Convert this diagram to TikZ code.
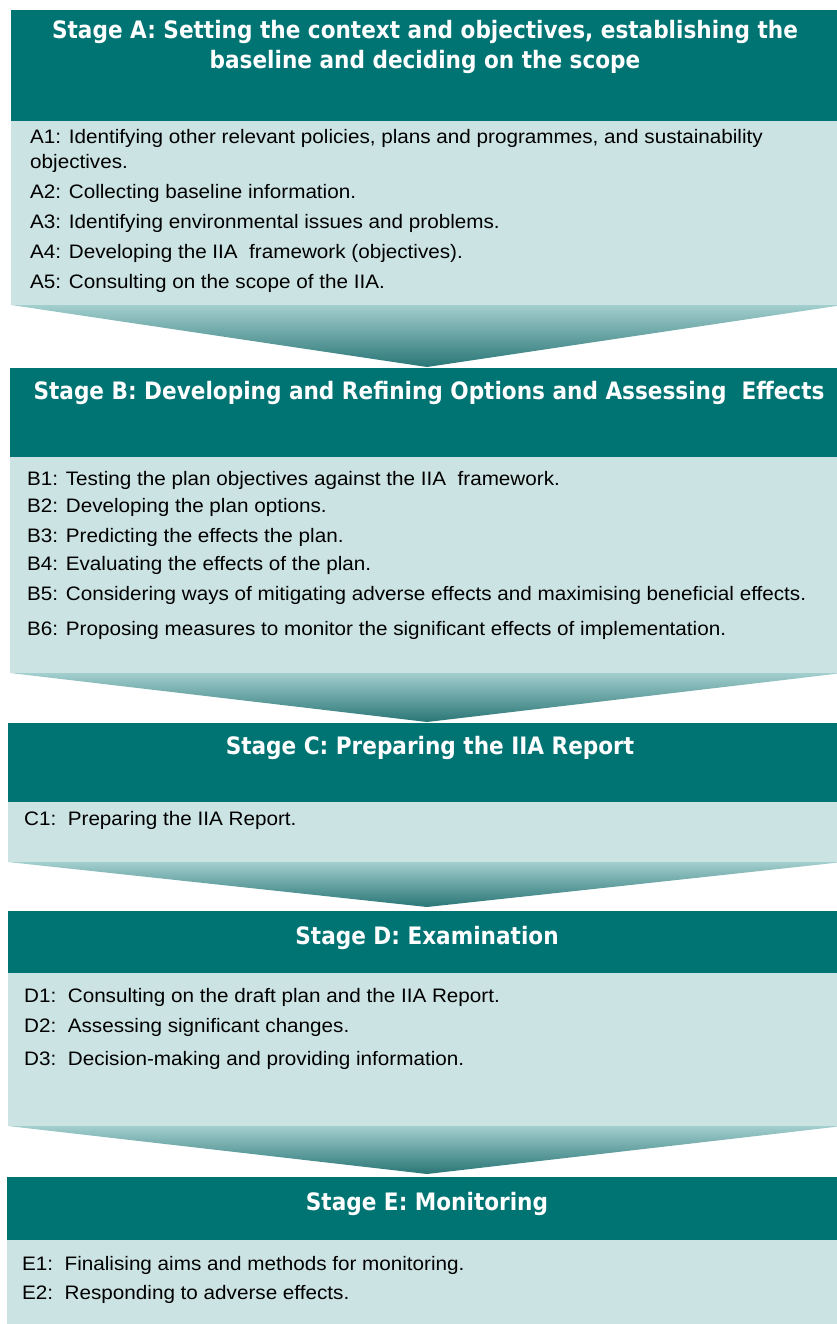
\documentclass[tikz,border=0pt]{standalone}
\usepackage{fontspec}
\setmainfont[FakeStretch=1.06]{Liberation Sans}
\newfontfamily\headfont[FakeStretch=0.9]{DejaVu Sans}
\usepackage{xcolor}
\usepackage{tikz}

\definecolor{stagehead}{HTML}{007373}
\definecolor{stagebody}{HTML}{CCE3E3}
\definecolor{arrowtop}{HTML}{A3CECE}
\definecolor{arrowbot}{HTML}{2A7676}

\begin{document}
\begin{tikzpicture}[x=1pt,y=-1pt,
        headtext/.style={text=white,align=center,font=\headfont\bfseries\fontsize{24}{30}\selectfont},
        itemtext/.style={anchor=west,inner sep=0pt,font=\fontsize{19.5}{22}\selectfont}]
        \useasboundingbox (0,0) rectangle (837,1324);
        \clip (0,0) rectangle (837,1324);
        %% stage A
        \fill[stagehead] (11,10) rectangle (843,121);
        \fill[stagebody] (11,121) rectangle (843,305);
        \shade[top color=arrowtop,bottom color=arrowbot] (11,305) -- (843,305) -- (427,367) -- cycle;
        \node[headtext] (titleA) at (425,47) {Stage A: Setting the context and objectives, establishing the\\baseline and deciding on the scope};
        \node[itemtext] (itemA1) at (30,138) {A1: Identifying other relevant policies, plans and programmes, and sustainability};
        \node[itemtext] (itemA1b) at (30,163) {objectives.};
        \node[itemtext] (itemA2) at (30,193) {A2: Collecting baseline information.};
        \node[itemtext] (itemA3) at (30,223) {A3: Identifying environmental issues and problems.};
        \node[itemtext] (itemA4) at (30,253) {A4: Developing the IIA~~framework (objectives).};
        \node[itemtext] (itemA5) at (30,283) {A5: Consulting on the scope of the IIA.};
        %% stage B
        \fill[stagehead] (10,368) rectangle (843,457);
        \fill[stagebody] (10,457) rectangle (843,673);
        \shade[top color=arrowtop,bottom color=arrowbot] (10,673) -- (843,673) -- (427,722) -- cycle;
        \node[headtext] (titleB) at (429,393) {Stage B: Developing and Refining Options and Assessing~~Effects};
        \node[itemtext] (itemB1) at (27,480) {B1: Testing the plan objectives against the IIA~~framework.};
        \node[itemtext] (itemB2) at (27,507) {B2: Developing the plan options.};
        \node[itemtext] (itemB3) at (27,537) {B3: Predicting the effects the plan.};
        \node[itemtext] (itemB4) at (27,565) {B4: Evaluating the effects of the plan.};
        \node[itemtext] (itemB5) at (27,595) {B5: Considering ways of mitigating adverse effects and maximising beneficial effects.};
        \node[itemtext] (itemB6) at (27,630) {B6: Proposing measures to monitor the significant effects of implementation.};
        %% stage C
        \fill[stagehead] (8,723) rectangle (843,802);
        \fill[stagebody] (8,802) rectangle (843,862);
        \shade[top color=arrowtop,bottom color=arrowbot] (8,862) -- (843,862) -- (427,907) -- cycle;
        \node[headtext] (titleC) at (430,748) {Stage C: Preparing the IIA Report};
        \node[itemtext] (itemC1) at (24,820) {C1:~~Preparing the IIA Report.};
        %% stage D
        \fill[stagehead] (8,911) rectangle (843,973);
        \fill[stagebody] (8,973) rectangle (843,1126);
        \shade[top color=arrowtop,bottom color=arrowbot] (8,1126) -- (843,1126) -- (427,1174) -- cycle;
        \node[headtext] (titleD) at (427,938) {Stage D: Examination};
        \node[itemtext] (itemD1) at (24,997) {D1:~~Consulting on the draft plan and the IIA Report.};
        \node[itemtext] (itemD2) at (24,1027) {D2:~~Assessing significant changes.};
        \node[itemtext] (itemD3) at (24,1060) {D3:~~Decision-making and providing information.};
        %% stage E
        \fill[stagehead] (7,1177) rectangle (843,1240);
        \fill[stagebody] (7,1240) rectangle (843,1324);
        \node[headtext] (titleE) at (427,1204) {Stage E: Monitoring};
        \node[itemtext] (itemE1) at (22,1265) {E1:~~Finalising aims and methods for monitoring.};
        \node[itemtext] (itemE2) at (22,1294) {E2:~~Responding to adverse effects.};
\end{tikzpicture}
\end{document}
